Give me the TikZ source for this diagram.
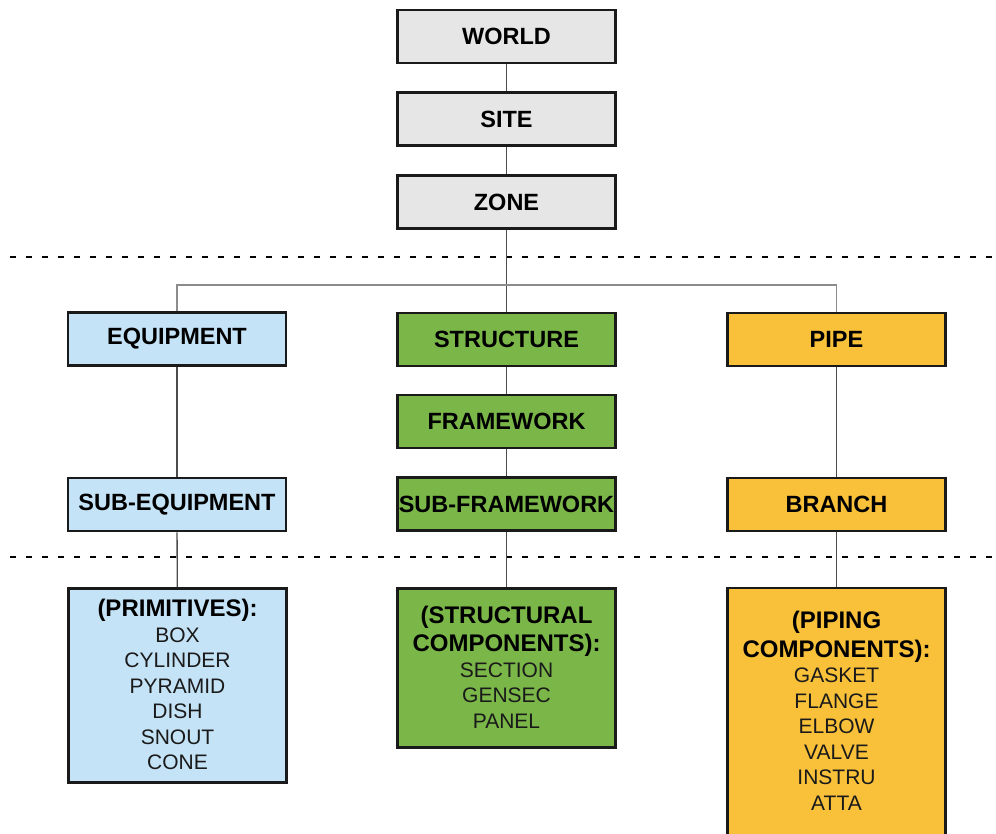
\documentclass[tikz,border=0pt]{standalone}
\usepackage{fontspec}
\setmainfont{Liberation Sans}
\definecolor{grayfill}{HTML}{E6E6E6}
\definecolor{bluefill}{HTML}{C5E3F6}
\definecolor{greenfill}{HTML}{7AB648}
\definecolor{orangefill}{HTML}{F9C13A}
\definecolor{inkc}{HTML}{1A1A1A}
\begin{document}
\begin{tikzpicture}[x=1pt,y=-1pt,
  box/.style={draw=inkc, line width=2.6pt, minimum width=218pt, minimum height=53pt, inner sep=0pt,
    text=black, font=\fontsize{23.5}{26}\selectfont\bfseries},
  bigbox/.style={draw=inkc, line width=2.6pt, inner sep=0pt},
  listtext/.style={anchor=north, align=center, inner sep=0pt, text=inkc,
    font=\fontsize{21}{25.5}\selectfont},
  conn/.style={draw=black!70, line width=1.3pt},
  hconn/.style={draw=black!45, line width=1.2pt},
  sep/.style={draw=black, line width=2.6pt, dash pattern=on 6pt off 10pt}
]
\useasboundingbox (0,0) rectangle (996,834);
\clip (0,0) rectangle (996,834);

% separators
\draw[sep] (10,257) -- (996,257);
\draw[sep] (10,557) -- (996,557);

% top column
\node[box, fill=grayfill] (world) at (506.5,36.5) {WORLD};
\node[box, fill=grayfill] (site) at (506.5,119) {SITE};
\node[box, fill=grayfill] (zone) at (506.5,202) {ZONE};

% second level
\node[box, fill=bluefill] (equip) at (177,339) {EQUIPMENT};
\node[box, fill=bluefill] (subequip) at (177,504.5) {SUB-EQUIPMENT};
\node[box, fill=greenfill] (struct) at (506.5,339.5) {STRUCTURE};
\node[box, fill=greenfill] (frame) at (506.5,421.5) {FRAMEWORK};
\node[box, fill=greenfill] (subframe) at (506.5,504) {SUB-FRAMEWORK};
\node[box, fill=orangefill] (pipe) at (836.5,339.5) {PIPE};
\node[box, fill=orangefill] (branch) at (836.5,504.5) {BRANCH};

% bottom boxes
\node[bigbox, fill=bluefill, minimum width=218pt, minimum height=194pt] (prim) at (177.5,685.5) {};
\node[bigbox, fill=greenfill, minimum width=218pt, minimum height=159pt] (scomp) at (506.5,668) {};
\node[bigbox, fill=orangefill, minimum width=218pt, minimum height=280pt] (pcomp) at (836.5,728) {};

\node[listtext] (primtext) at (177.5,599) {{\fontsize{24}{25.5}\selectfont\bfseries\color{black}(PRIMITIVES):}\\BOX\\CYLINDER\\PYRAMID\\DISH\\SNOUT\\CONE};
\node[listtext] (scomptext) at (506.5,605.5) {{\fontsize{24}{29}\selectfont\bfseries\color{black}(STRUCTURAL}\\[3pt]{\fontsize{24}{29}\selectfont\bfseries\color{black}COMPONENTS):}\\SECTION\\GENSEC\\PANEL};
\node[listtext] (pcomptext) at (836.5,611) {{\fontsize{24}{29}\selectfont\bfseries\color{black}(PIPING}\\[3pt]{\fontsize{24}{29}\selectfont\bfseries\color{black}COMPONENTS):}\\GASKET\\FLANGE\\ELBOW\\VALVE\\INSTRU\\ATTA};

% connectors
\coordinate (hub) at (506.5,285);
\draw[conn] (world) -- (site);
\draw[conn] (site) -- (zone);
\draw[conn] (zone) -- (struct);
\draw[hconn] (equip.north) |- (hub) -| (pipe.north);
\draw[conn] (struct) -- (frame);
\draw[conn] (frame) -- (subframe);
\draw[conn] (equip) -- (subequip);
\draw[conn] (pipe) -- (branch);
\draw[conn] (subequip) -- (prim);
\draw[conn] (subframe) -- (scomp);
\draw[conn] (branch) -- (pcomp);
\end{tikzpicture}
\end{document}
